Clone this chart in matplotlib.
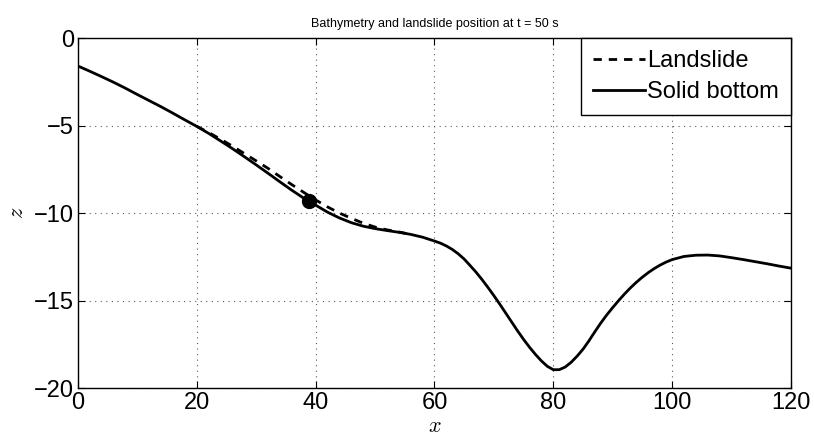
import numpy as np
import matplotlib
matplotlib.use('Agg')
import matplotlib.pyplot as plt

# bathymetry (solid bottom)
x_fondo = [0, 2, 4, 6, 8, 10, 12, 14, 16, 18, 20, 22, 24, 26, 28, 30, 32, 34, 36,
           38, 40, 42, 44, 46, 48, 50, 52, 54, 56, 58, 60, 61, 62, 63, 64, 65, 66,
           67, 68, 69, 70, 71, 72, 73, 74, 75, 76, 77, 78, 79, 80, 81, 82, 83, 84,
           85, 86, 87, 88, 89, 90, 91, 92, 93, 94, 95, 96, 97, 98, 99, 100, 102,
           104, 106, 108, 110, 112, 114, 116, 118, 120]
z_fondo = [-1.60, -1.90, -2.21, -2.53, -2.87, -3.23, -3.58, -3.93, -4.30, -4.68,
           -5.05, -5.45, -5.88, -6.32, -6.78, -7.25, -7.73, -8.22, -8.70, -9.15,
           -9.55, -9.95, -10.28, -10.55, -10.75, -10.89, -11.00, -11.10, -11.22,
           -11.38, -11.60, -11.72, -11.88, -12.08, -12.33, -12.63, -13.00, -13.38,
           -13.80, -14.25, -14.72, -15.21, -15.72, -16.23, -16.74, -17.22, -17.67,
           -18.08, -18.45, -18.76, -18.95, -18.95, -18.80, -18.53, -18.18, -17.78,
           -17.30, -16.78, -16.28, -15.82, -15.40, -15.00, -14.62, -14.27, -13.95,
           -13.66, -13.40, -13.17, -12.97, -12.80, -12.66, -12.48, -12.41, -12.40,
           -12.45, -12.55, -12.66, -12.78, -12.90, -13.03, -13.15]

# landslide surface
x_desliz = [20, 22, 24, 26, 28, 30, 32, 34, 36, 38, 40, 42, 44, 46, 48, 50, 52, 54, 56]
z_desliz = [-5.05, -5.40, -5.78, -6.18, -6.60, -7.02, -7.45, -7.92, -8.38, -8.82,
            -9.25, -9.65, -10.00, -10.30, -10.58, -10.80, -10.96, -11.08, -11.22]

# landslide position marker
x_pos = [38.9]
z_pos = [-9.3]

plt.rcParams['font.family'] = ['Liberation Sans', 'DejaVu Sans']
plt.rcParams['mathtext.fontset'] = 'cm'

fig = plt.figure(figsize=(8.14, 4.37), dpi=100)
ax = fig.add_subplot(111)
fig.subplots_adjust(left=0.0958, right=0.9717, top=0.913, bottom=0.112)

ax.plot(x_desliz, z_desliz, 'k--', lw=2.0, dashes=(3, 2.5), label='Landslide')
ax.plot(x_fondo, z_fondo, 'k-', lw=2.0, label='Solid bottom')
ax.plot(x_pos, z_pos, 'ko', ms=10)

ax.set_xlim(0, 120)
ax.set_ylim(-20, 0)
ax.set_xticks(np.arange(0, 121, 20))
ax.set_yticks(np.arange(-20, 1, 5))
ax.grid(True, linestyle=(0, (1, 4)), color='0.35', lw=0.8)
ax.tick_params(direction='in', top=True, right=True, labelsize=17, length=5, pad=3)
for s in ax.spines.values():
    s.set_linewidth(1.0)

ax.set_xlabel('$x$', fontsize=16, labelpad=1)
ax.set_ylabel('$z$', fontsize=16, labelpad=4)
ax.set_title('Bathymetry and landslide position at t = 50 s', fontsize=9, pad=8)

leg = ax.legend(loc='upper right', fontsize=17, handlelength=2.2, handletextpad=0.1,
                borderpad=0.5, labelspacing=0.4, borderaxespad=0.0, fancybox=False,
                framealpha=1, edgecolor='k')
leg.get_frame().set_linewidth(1.0)

plt.savefig('out.png', dpi=100)
plt.close()
